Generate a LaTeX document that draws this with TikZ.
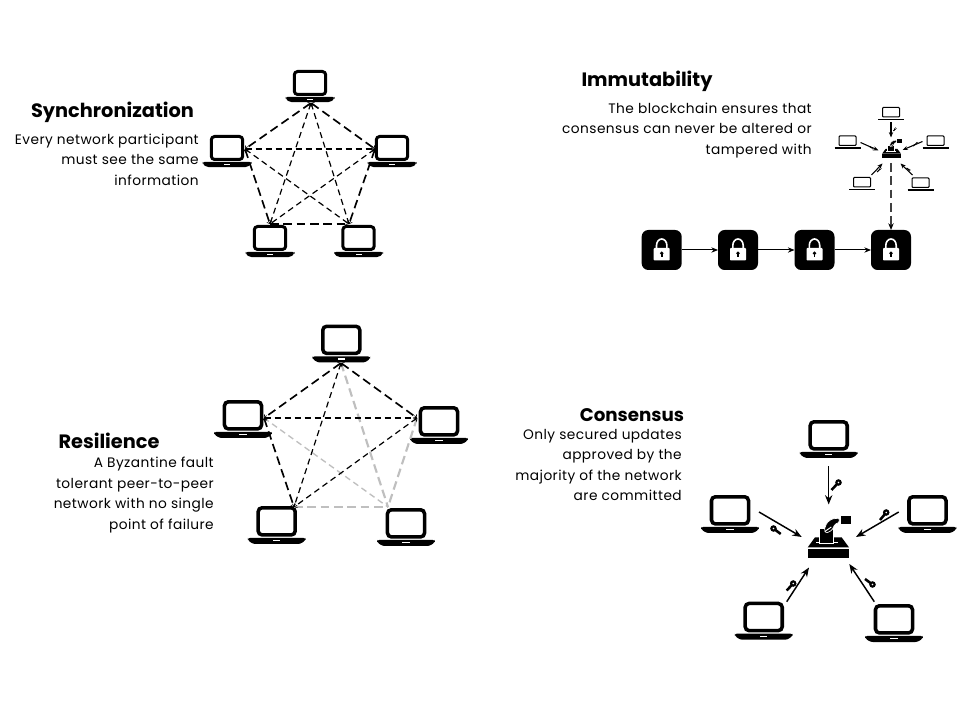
\documentclass[tikz,border=0pt]{standalone}
\usepackage{fontspec}
\setmainfont{Poppins}
\newfontfamily\bodyfont[LetterSpace=3.2]{Poppins}
\usetikzlibrary{arrows.meta}
\tikzset{
  bodytext/.style={anchor=east,align=right,inner sep=0pt,font=\bodyfont\fontsize{10.3}{15.4}\selectfont},
  titletext/.style={anchor=center,inner sep=0pt,font=\fontsize{14.5}{16}\selectfont\bfseries},
  hull/.style={inner sep=0pt,outer sep=0pt},
  thickdash/.style={line width=1.25pt,dash pattern=on 6.5pt off 3.5pt},
  thindash/.style={line width=.9pt,dash pattern=on 4.5pt off 3pt,{Straight Barb[length=1.6pt,width=3.8pt,line width=.45pt]}-{Straight Barb[length=1.6pt,width=3.8pt,line width=.45pt]}},
  bothdash/.style={thickdash,{Straight Barb[length=1.6pt,width=3.8pt,line width=.45pt]}-{Straight Barb[length=1.6pt,width=3.8pt,line width=.45pt]}},
  greythick/.style={line width=1.6pt,dash pattern=on 6.5pt off 3.5pt,color=black!25},
  greythin/.style={line width=1pt,dash pattern=on 4.5pt off 3pt,color=black!25},
  bigarrow/.style={line width=1.1pt,-{Stealth[length=7pt,width=5.5pt]}},
  tinyarrow/.style={line width=.8pt,-{Stealth[length=4pt,width=3.2pt]}},
  chainarrow/.style={line width=.75pt,-{Stealth[length=5pt,width=4pt]}},
  blockbox/.style={fill=black,rounded corners=5pt,minimum size=30pt,inner sep=0pt,outer sep=0pt},
}
% name, centre x, top y, scale
\newcommand{\laptop}[4]{%
  \node[hull,minimum width={36.75pt*#4},minimum height={24pt*#4}] (#1) at ({#2},{#3+16*#4}) {};
  \begin{scope}[shift={({#2},{#3})},scale=#4]
    \draw[line width={2.25pt*#4},rounded corners={2.5pt*#4}] (-15.7,1.5) rectangle (15.7,24.5);
    \fill[rounded corners={1.5pt*#4}] (-24.5,27) -- (24.5,27) -- (24.5,29) -- (20,32.2) -- (-20,32.2) -- (-24.5,29) -- cycle;
    \fill[white] (-3,28.7) rectangle (3,29.9);
  \end{scope}}
% thin small laptop: name, centre x, top y
\newcommand{\smalltop}[3]{%
  \node[hull,minimum width=19.5pt,minimum height=9.75pt] (#1) at ({#2},{#3+6.5}) {};
  \begin{scope}[shift={({#2},{#3})}]
    \draw[line width=.75pt,rounded corners=.7pt] (-8.5,0.5) rectangle (8.5,10);
    \draw[line width=.9pt] (-13,12.5) -- (13,12.5);
  \end{scope}}
% name, centre x, bottom y, scale
\newcommand{\ballotbox}[4]{%
  \node[hull,minimum width={32pt*#4},minimum height={32pt*#4}] (#1) at ({#2},{#3-21*#4}) {};
  \begin{scope}[shift={({#2},{#3})},scale=#4]
    \fill (-20.6,-9) rectangle (20.7,0);
    \fill (-20.6,-10.6) -- (-13.3,-20.7) -- (13.3,-20.7) -- (20.7,-10.6) -- cycle;
    \fill[white] (-12,-16.5) rectangle (10,-14.8);
    \draw[white,fill=black,line width={.9pt*#4}] (-8.5,-14.8) -- (-8.5,-29.5) -- (5.5,-29.5) -- (5.5,-14.8) -- cycle;
    \fill[draw=white,line width={.5pt*#4},rounded corners={1pt*#4}] (-4,-28.5) -- (-1.6,-35) -- (3.4,-39) -- (11,-39.9) -- (11,-35.7) -- (6.7,-33.7) -- (3.4,-27.5) -- (-2.3,-24.8) -- cycle;
    \draw[white,line width={.7pt*#4}] (-3.5,-26.5) -- (3,-31);
    \fill (12.4,-42.3) rectangle (22.7,-33.7);
  \end{scope}}
% head x,y ; tail x,y ; head radius ; shaft width
\newcommand{\keyicon}[6]{%
  \draw[line width=#6,line cap=butt] (#1,#2) -- (#3,#4);
  \fill (#1,#2) circle (#5);
  \fill[white] (#1,#2) circle ({#5*.28});}
% lock on block: block centre
\newcommand{\lockon}[2]{%
  \begin{scope}[shift={(#1,#2)}]
    \draw[white,line width=1.2pt] (-5.2,0) -- (-5.2,-4.5) arc[start angle=180,end angle=360,x radius=5.2,y radius=6.5] -- (5.2,0);
    \fill[white,rounded corners=.6pt] (-8,-2) rectangle (8,10.5);
    \fill (0,3.2) circle (1.9);
    \fill (-.9,3.2) rectangle (.9,7.4);
  \end{scope}}
\begin{document}
\begin{tikzpicture}[x=.75pt,y=-.75pt]
\useasboundingbox[fill=white] (0,0) rectangle (960,720);

% ---------- Synchronization
\node[titletext] (t1) at (112.5,112) {Synchronization};
\node[bodytext] (b1txt) at (199,159.5) {Every network participant\\must see the same\\information};
\laptop{sa}{310}{70}{1}
\laptop{sb}{227}{135}{1}
\laptop{sc}{392}{135}{1}
\laptop{sd}{270}{225}{1}
\laptop{se}{358.5}{225}{1}
\coordinate (pa) at (311,103);
\coordinate (pb) at (245,149);
\coordinate (pc) at (375,149);
\coordinate (pd) at (270,224);
\coordinate (pe) at (349,224);
\draw[bothdash] (pa) -- (pb);
\draw[bothdash] (pa) -- (pc);
\draw[bothdash] (pb) -- (pd);
\draw[bothdash] (pc) -- (pe);
\draw[thickdash] (pd) -- (pe);
\draw[thindash] (pa) -- (pd);
\draw[thindash] (pa) -- (pe);
\draw[thindash] (pb) -- (pc);
\draw[thindash] (pb) -- (pe);
\draw[thindash] (pc) -- (pd);

% ---------- Immutability
\node[titletext] (t2) at (647,81) {Immutability};
\node[bodytext] (b2txt) at (812,130.5) {The blockchain ensures that\\consensus can never be altered or\\tampered with};
\smalltop{ia}{891}{107}
\smalltop{ib}{847.5}{135.5}
\smalltop{ic}{935.5}{135.5}
\smalltop{id}{862}{177}
\smalltop{ie}{920.5}{177.5}
\ballotbox{ih}{891.5}{158.3}{.45}
\coordinate (ia1) at (891,122.5);
\coordinate (ia2) at (891,137.5);
\coordinate (ib1) at (860.5,142.5);
\coordinate (ib2) at (878.5,150.5);
\coordinate (ic1) at (922.5,141.5);
\coordinate (ic2) at (902.5,150);
\coordinate (id1) at (871.5,175);
\coordinate (id2) at (882.5,163.5);
\coordinate (ie1) at (912.5,175);
\coordinate (ie2) at (900.5,163.5);
\draw[tinyarrow] (ia1) -- (ia2);
\draw[tinyarrow] (ib1) -- (ib2);
\draw[tinyarrow] (ic1) -- (ic2);
\draw[tinyarrow] (id1) -- (id2);
\draw[tinyarrow] (ie1) -- (ie2);
\keyicon{895.5}{128.5}{893.5}{131}{1.2}{.8pt}
\keyicon{873}{148.5}{869.5}{146.5}{1.1}{.8pt}
\keyicon{917}{143}{913}{146}{1.2}{.8pt}
\keyicon{880.5}{168.5}{877}{172}{1.2}{.8pt}
\keyicon{909.5}{170}{906.5}{168}{1.2}{.8pt}
\node[blockbox] (ba) at (661.7,250) {};
\node[blockbox] (bb) at (738,250) {};
\node[blockbox] (bc) at (814.5,250) {};
\node[blockbox] (bd) at (891,250) {};
\lockon{661.7}{250}
\lockon{738}{250}
\lockon{814.5}{250}
\lockon{891}{250}
\draw[chainarrow] (ba) -- (bb);
\draw[chainarrow] (bb) -- (bc);
\draw[chainarrow] (bc) -- (bd);
\coordinate (ih1) at (891,163);
\draw[line width=1.2pt,color=black!75,dash pattern=on 6.5pt off 3.5pt,-{Stealth[length=5pt,width=4pt,color=black]}] (ih1) -- (bd.north);

% ---------- Resilience
\node[titletext] (t3) at (109,440.5) {Resilience};
\node[bodytext] (b3txt) at (214,495) {A Byzantine fault\\tolerant peer-to-peer\\network with no single\\point of failure};
\laptop{ra}{341.3}{324.5}{1.18}
\laptop{rb}{243}{400}{1.18}
\laptop{rc}{439}{406}{1.18}
\laptop{rd}{276.7}{506}{1.18}
\laptop{re}{406}{508}{1.18}
\coordinate (qa) at (341,363);
\coordinate (qb) at (264,418);
\coordinate (qc) at (417,418);
\coordinate (qd) at (294,507);
\coordinate (qe) at (388,507);
\draw[greythick] (qa) -- (qe);
\draw[greythin] (qb) -- (qe);
\draw[greythick] (qc) -- (qe);
\draw[greythick] (qd) -- (qe);
\draw[bothdash] (qa) -- (qb);
\draw[bothdash] (qa) -- (qc);
\draw[thindash] (qa) -- (qd);
\draw[thindash] (qb) -- (qc);
\draw[bothdash] (qb) -- (qd);
\draw[thindash] (qc) -- (qd);

% ---------- Consensus
\node[titletext,font=\fontsize{13.7}{16}\selectfont\bfseries] (t4) at (632,415.5) {Consensus};
\node[bodytext] (b4txt) at (682,465) {Only secured updates\\approved by the\\majority of the network\\are committed};
\laptop{ca}{828.7}{420}{1.18}
\laptop{cb}{730}{495}{1.18}
\laptop{cc}{927.5}{495}{1.18}
\laptop{cd}{763.7}{601.7}{1.18}
\laptop{ce}{894}{604}{1.18}
\ballotbox{ch}{828.3}{558}{1}
\coordinate (ca1) at (828.7,466);
\coordinate (ca2) at (828.7,504.5);
\coordinate (cb1) at (759,512);
\coordinate (cb2) at (801.7,537);
\coordinate (cc1) at (898.7,512);
\coordinate (cc2) at (856,537);
\coordinate (cd1) at (786.7,601.7);
\coordinate (cd2) at (809,567.5);
\coordinate (ce1) at (874.3,601.7);
\coordinate (ce2) at (849.3,564);
\draw[bigarrow] (ca1) -- (ca2);
\draw[bigarrow] (cb1) -- (cb2);
\draw[bigarrow] (cc1) -- (cc2);
\draw[bigarrow] (cd1) -- (cd2);
\draw[bigarrow] (ce1) -- (ce2);
\keyicon{838.5}{482.5}{831.5}{490}{3.3}{1.9pt}
\keyicon{773.5}{528.5}{780.7}{534}{3.3}{1.9pt}
\keyicon{886.2}{512.5}{880}{520}{3.3}{1.9pt}
\keyicon{793.2}{583.5}{786.7}{590.5}{3.3}{1.9pt}
\keyicon{872.5}{584.5}{865}{579}{3.3}{1.9pt}
\end{tikzpicture}
\end{document}
